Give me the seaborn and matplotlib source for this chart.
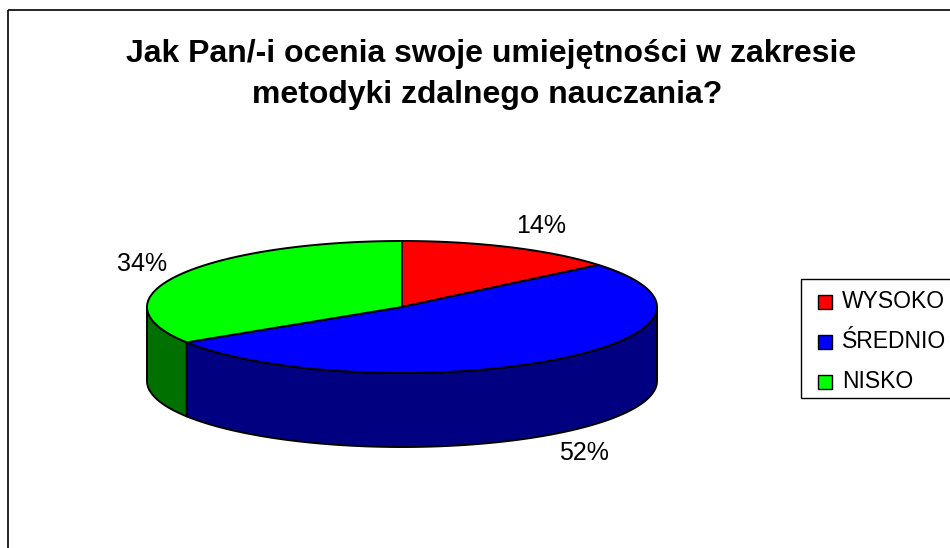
import numpy as np
import matplotlib
matplotlib.use("Agg")
import matplotlib.pyplot as plt
from matplotlib.patches import Polygon, Rectangle
import seaborn as sns

# Survey answers
categories = ["WYSOKO", "ŚREDNIO", "NISKO"]
shares = [14, 52, 34]
top_colors = ["#FF0000", "#0000FF", "#00FF00"]
side_colors = ["#800000", "#000080", "#007000"]
title_lines = ["Jak Pan/-i ocenia swoje umiejętności w zakresie",
               "metodyki zdalnego nauczania?"]

sns.set_theme(style="white")
plt.rcParams["font.family"] = ["Liberation Sans", "DejaVu Sans"]
plt.rcParams["text.color"] = "black"

W, H = 950, 548
fig = plt.figure(figsize=(W / 100, H / 100), dpi=100)
ax = fig.add_axes([0, 0, 1, 1])
ax.set_xlim(0, W)
ax.set_ylim(H, 0)
ax.axis("off")

# 3-D pie geometry (pixel space): centre, semi-axes, wall depth
cx, cy, a, b, depth = 402, 307, 255, 66, 74


def rim(theta_deg):
    t = np.radians(theta_deg)
    return cx + a * np.sin(t), cy - b * np.cos(t)


def arc(t1, t2, n=120):
    ts = np.linspace(t1, t2, n)
    xs, ys = rim(ts)
    return np.column_stack([xs, ys])


edge_kw = dict(edgecolor="black", linewidth=1.4, joinstyle="round")

total = float(sum(shares))
bounds = np.concatenate([[0], np.cumsum(shares) / total * 360.0])

# front walls (visible part of the rim lies between 90 and 270 degrees)
for i in range(len(shares)):
    lo = max(bounds[i], 90.0)
    hi = min(bounds[i + 1], 270.0)
    if hi <= lo:
        continue
    top = arc(lo, hi)
    bottom = top[::-1] + np.array([0, depth])
    ax.add_patch(Polygon(np.vstack([top, bottom]), closed=True,
                         facecolor=side_colors[i], **edge_kw))

# top face wedges
for i in range(len(shares)):
    pts = np.vstack([[cx, cy], arc(bounds[i], bounds[i + 1])])
    ax.add_patch(Polygon(pts, closed=True, facecolor=top_colors[i], **edge_kw))

# percentage labels outside each slice
for i, v in enumerate(shares):
    mid = np.radians((bounds[i] + bounds[i + 1]) / 2)
    s, c = np.sin(mid), np.cos(mid)
    lx = cx + 1.05 * a * s
    ly = cy - 1.35 * b * c
    if c < 0:
        ly += depth
    ax.text(lx, ly, f"{v}%", ha="left" if s > 0 else "right", va="center",
            fontsize=18, color="black")

# title
ax.text(491, 62, title_lines[0], ha="center", va="baseline", fontsize=23,
        fontweight="bold", color="black")
ax.text(487, 103, title_lines[1], ha="center", va="baseline", fontsize=23,
        fontweight="bold", color="black")

# chart frame
ax.add_patch(Rectangle((8, 10), 1200, 800, fill=False, edgecolor="black",
                       linewidth=1.2))

# legend
ax.add_patch(Rectangle((801, 279), 300, 119, facecolor="white",
                       edgecolor="black", linewidth=1.0))
row_y = [302, 342, 382]
for name, col, yy in zip(categories, top_colors, row_y):
    ax.add_patch(Rectangle((818, yy - 7), 14, 14, facecolor=col,
                           edgecolor="black", linewidth=1.0))
    ax.text(842, yy, name, ha="left", va="center", fontsize=16.5, color="black")

fig.savefig("out.png", dpi=100)
